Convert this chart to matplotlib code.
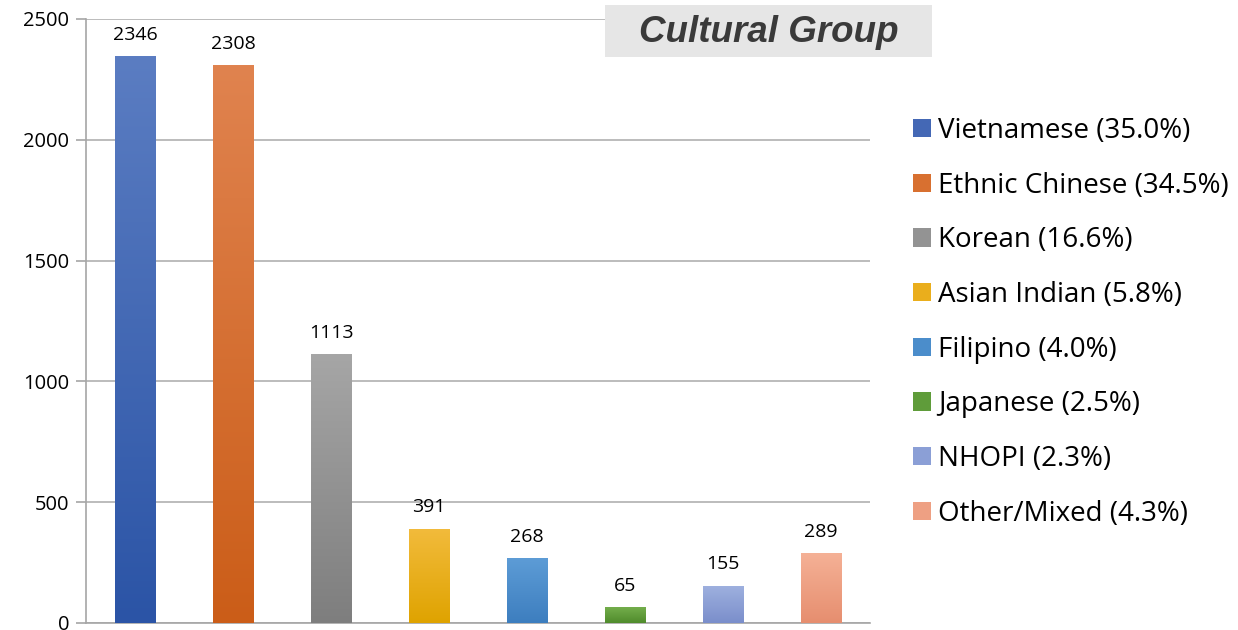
import matplotlib
matplotlib.use("Agg")
import matplotlib.pyplot as plt
import numpy as np
from matplotlib.patches import Patch, Rectangle
from matplotlib.colors import LinearSegmentedColormap

categories = ["Vietnamese", "Ethnic Chinese", "Korean", "Asian Indian",
              "Filipino", "Japanese", "NHOPI", "Other/Mixed"]
values = [2346, 2308, 1113, 391, 268, 65, 155, 289]
percents = ["35.0%", "34.5%", "16.6%", "5.8%", "4.0%", "2.5%", "2.3%", "4.3%"]
yticks = [0, 500, 1000, 1500, 2000, 2500]
title = "Cultural Group"

top_colors = ["#5b7dc2", "#e0834f", "#a6a6a6", "#f2bb3c", "#5d9cd6", "#74ae4b", "#9fb1df", "#f5b196"]
bot_colors = ["#2b54a6", "#cb5d18", "#7e7e7e", "#dfa300", "#3d7ebf", "#4f8b2c", "#7a8ecb", "#e68e6f"]
mid_colors = ["#4468b5", "#d87030", "#939393", "#eaae1c", "#4b8dcb", "#5f9c3a", "#8b9fd6", "#eea083"]

TXT = ["Open Sans", "DejaVu Sans"]

fig = plt.figure(figsize=(12.38, 6.30), dpi=100)
ax = fig.add_axes([86/1238, 7/630, 784/1238, 604/630])

x = np.arange(len(categories))
bars = ax.bar(x, values, width=0.41, color=mid_colors, zorder=3)

for b, tc, bc in zip(bars, top_colors, bot_colors):
    cmap = LinearSegmentedColormap.from_list("g", [bc, tc])
    x0, y0 = b.get_x(), b.get_y()
    w, h = b.get_width(), b.get_height()
    grad = np.linspace(0, 1, 256).reshape(-1, 1)
    im = ax.imshow(grad, cmap=cmap, origin="lower", aspect="auto",
                   extent=[x0, x0 + w, y0, y0 + h], zorder=4)
    im.set_clip_path(b)

ax.set_xlim(-0.5, len(categories) - 0.5)
ax.set_ylim(0, 2500)

for xi, v in zip(x, values):
    ax.annotate(str(v), (xi, v), xytext=(0, 9), textcoords="offset points",
                ha="center", va="bottom", fontsize=14, family=TXT, color="#000000")

ax.set_yticks(yticks)
ax.set_yticklabels([str(t) for t in yticks], fontsize=14.5, family=TXT)
ax.set_xticks([])
ax.grid(axis="y", color="#b0b0b0", linewidth=1.2, zorder=0)
for s in ["top", "right"]:
    ax.spines[s].set_visible(False)
ax.spines["left"].set_color("#a6a6a6")
ax.spines["bottom"].set_color("#a6a6a6")
ax.spines["left"].set_linewidth(1.2)
ax.spines["bottom"].set_linewidth(1.2)
ax.tick_params(axis="y", length=7, color="#a6a6a6", width=1.2, pad=5)

handles = [Patch(facecolor=c, edgecolor="none") for c in mid_colors]
labels = [f"{c} ({p})" for c, p in zip(categories, percents)]
fig.legend(handles, labels, loc="upper left", bbox_to_anchor=(899/1238, 1 - 103/630),
           frameon=False, prop={"family": TXT, "size": 20}, handlelength=0.65,
           handleheight=0.65, handletextpad=0.25, labelspacing=0.96, borderpad=0)

fig.patches.append(Rectangle((605/1238, 1 - 57/630), 327/1238, 52/630,
                             transform=fig.transFigure, facecolor="#e6e6e6",
                             edgecolor="none", zorder=10))
fig.text(769/1238, 1 - 33/630, title, ha="center", va="center", fontsize=26.5,
         family="Liberation Sans", weight="bold", style="italic", color="#3a3a3a", zorder=11)

fig.savefig("out.png", dpi=100)
